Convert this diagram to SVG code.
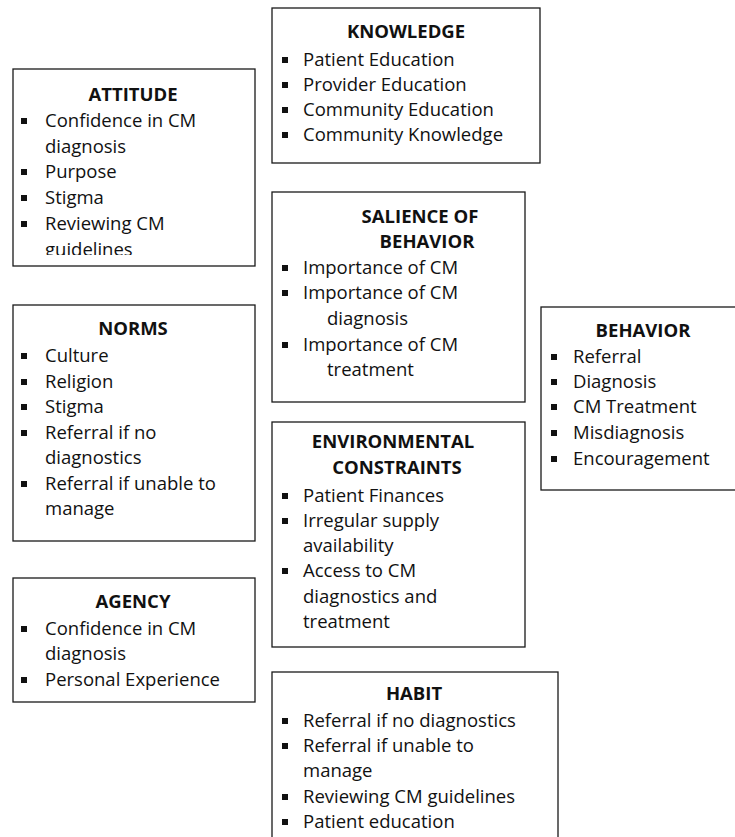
<svg xmlns="http://www.w3.org/2000/svg" xmlns:xlink="http://www.w3.org/1999/xlink" width="735" height="837" viewBox="0 0 735 837">
  <style>
    .box { fill: #fff; stroke: #1a1a1a; stroke-width: 1.3; }
    .ttl { font-family: "Open Sans", "Liberation Sans", sans-serif; font-size: 18.5px; font-weight: bold; fill: #111; text-anchor: middle; }
    .itm { font-family: "Open Sans", "Liberation Sans", sans-serif; font-size: 18.5px; fill: #111; }
    .bul { fill: #111; }
  </style>
  <defs>
    <!-- square list bullet, placed with its bottom 3px above the baseline -->
    <rect id="bl" class="bul" x="0" y="-9" width="6" height="6"/>
    <clipPath id="attClip">
      <rect x="13" y="69" width="242" height="186"/>
    </clipPath>
  </defs>
  <rect width="735" height="837" fill="#fff"/>

  <!-- KNOWLEDGE -->
  <g id="knowledge">
    <rect class="box" x="272" y="8" width="268" height="155"/>
    <text class="ttl" x="406" y="38">KNOWLEDGE</text>
    <use xlink:href="#bl" x="282" y="66"/><text class="itm" x="303" y="66">Patient Education</text>
    <use xlink:href="#bl" x="282" y="91"/><text class="itm" x="303" y="91">Provider Education</text>
    <use xlink:href="#bl" x="282" y="116"/><text class="itm" x="303" y="116">Community Education</text>
    <use xlink:href="#bl" x="282" y="141"/><text class="itm" x="303" y="141">Community Knowledge</text>
  </g>

  <!-- ATTITUDE (last line clipped by the frame) -->
  <g id="attitude">
    <rect class="box" x="13" y="69" width="242" height="197"/>
    <g clip-path="url(#attClip)">
      <text class="ttl" x="133" y="101">ATTITUDE</text>
      <use xlink:href="#bl" x="21" y="127"/><text class="itm" x="45" y="127">Confidence in CM</text>
      <text class="itm" x="45" y="153">diagnosis</text>
      <use xlink:href="#bl" x="21" y="178"/><text class="itm" x="45" y="178">Purpose</text>
      <use xlink:href="#bl" x="21" y="204"/><text class="itm" x="45" y="204">Stigma</text>
      <use xlink:href="#bl" x="21" y="230"/><text class="itm" x="45" y="230">Reviewing CM</text>
      <text class="itm" x="45" y="256">guidelines</text>
    </g>
  </g>

  <!-- SALIENCE OF BEHAVIOR -->
  <g id="salience">
    <rect class="box" x="272" y="192" width="253" height="210"/>
    <text class="ttl" x="420" y="223">SALIENCE OF</text>
    <text class="ttl" x="427" y="248">BEHAVIOR</text>
    <use xlink:href="#bl" x="282" y="274"/><text class="itm" x="303" y="274">Importance of CM</text>
    <use xlink:href="#bl" x="282" y="299"/><text class="itm" x="303" y="299">Importance of CM</text>
    <text class="itm" x="327" y="325">diagnosis</text>
    <use xlink:href="#bl" x="282" y="351"/><text class="itm" x="303" y="351">Importance of CM</text>
    <text class="itm" x="327" y="376">treatment</text>
  </g>

  <!-- NORMS -->
  <g id="norms">
    <rect class="box" x="13" y="305" width="242" height="236"/>
    <text class="ttl" x="133" y="335">NORMS</text>
    <use xlink:href="#bl" x="21" y="362"/><text class="itm" x="45" y="362">Culture</text>
    <use xlink:href="#bl" x="21" y="388"/><text class="itm" x="45" y="388">Religion</text>
    <use xlink:href="#bl" x="21" y="413"/><text class="itm" x="45" y="413">Stigma</text>
    <use xlink:href="#bl" x="21" y="439"/><text class="itm" x="45" y="439">Referral if no</text>
    <text class="itm" x="45" y="464">diagnostics</text>
    <use xlink:href="#bl" x="21" y="490"/><text class="itm" x="45" y="490">Referral if unable to</text>
    <text class="itm" x="45" y="515">manage</text>
  </g>

  <!-- BEHAVIOR (frame runs past the right edge) -->
  <g id="behavior">
    <rect class="box" x="541" y="307" width="200" height="183"/>
    <text class="ttl" x="643" y="337">BEHAVIOR</text>
    <use xlink:href="#bl" x="551" y="363"/><text class="itm" x="573" y="363">Referral</text>
    <use xlink:href="#bl" x="551" y="388"/><text class="itm" x="573" y="388">Diagnosis</text>
    <use xlink:href="#bl" x="551" y="413"/><text class="itm" x="573" y="413">CM Treatment</text>
    <use xlink:href="#bl" x="551" y="439"/><text class="itm" x="573" y="439">Misdiagnosis</text>
    <use xlink:href="#bl" x="551" y="465"/><text class="itm" x="573" y="465">Encouragement</text>
  </g>

  <!-- ENVIRONMENTAL CONSTRAINTS -->
  <g id="environmental-constraints">
    <rect class="box" x="272" y="422" width="253" height="225"/>
    <text class="ttl" x="393" y="448">ENVIRONMENTAL</text>
    <text class="ttl" x="397" y="474">CONSTRAINTS</text>
    <use xlink:href="#bl" x="282" y="502"/><text class="itm" x="303" y="502">Patient Finances</text>
    <use xlink:href="#bl" x="282" y="527"/><text class="itm" x="303" y="527">Irregular supply</text>
    <text class="itm" x="303" y="552">availability</text>
    <use xlink:href="#bl" x="282" y="577"/><text class="itm" x="303" y="577">Access to CM</text>
    <text class="itm" x="303" y="603">diagnostics and</text>
    <text class="itm" x="303" y="628">treatment</text>
  </g>

  <!-- AGENCY -->
  <g id="agency">
    <rect class="box" x="13" y="578" width="242" height="124"/>
    <text class="ttl" x="133" y="608">AGENCY</text>
    <use xlink:href="#bl" x="21" y="635"/><text class="itm" x="45" y="635">Confidence in CM</text>
    <text class="itm" x="45" y="660">diagnosis</text>
    <use xlink:href="#bl" x="21" y="686"/><text class="itm" x="45" y="686">Personal Experience</text>
  </g>

  <!-- HABIT (frame runs past the bottom edge) -->
  <g id="habit">
    <rect class="box" x="272" y="672" width="286" height="180"/>
    <text class="ttl" x="414" y="700">HABIT</text>
    <use xlink:href="#bl" x="282" y="727"/><text class="itm" x="303" y="727">Referral if no diagnostics</text>
    <use xlink:href="#bl" x="282" y="752"/><text class="itm" x="303" y="752">Referral if unable to</text>
    <text class="itm" x="303" y="777">manage</text>
    <use xlink:href="#bl" x="282" y="803"/><text class="itm" x="303" y="803">Reviewing CM guidelines</text>
    <use xlink:href="#bl" x="282" y="828"/><text class="itm" x="303" y="828">Patient education</text>
  </g>

  <!-- the boxes stand alone; no connectors are drawn -->
  <g id="connectors"/>
</svg>
